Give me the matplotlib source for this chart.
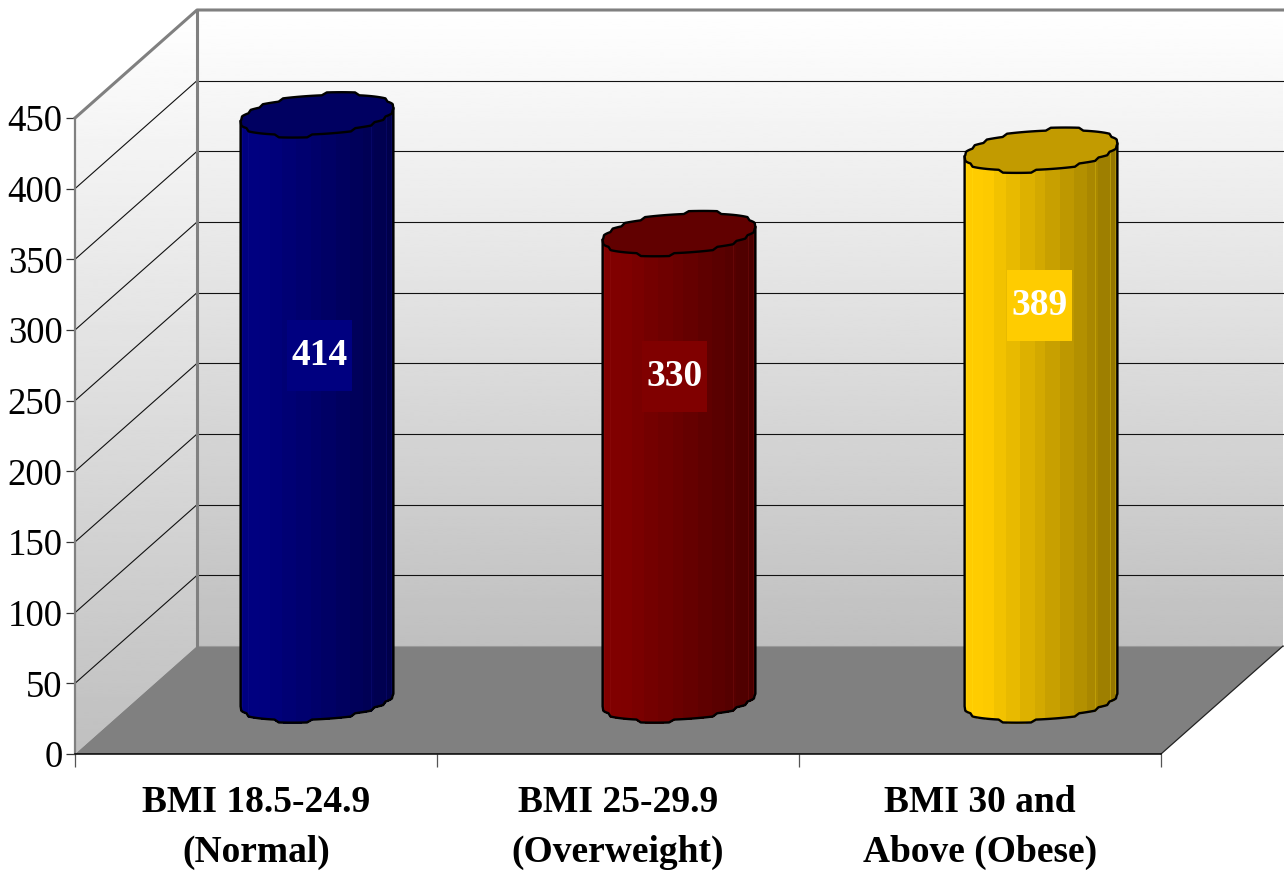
import numpy as np
import matplotlib
matplotlib.use("Agg")
import matplotlib.pyplot as plt
from matplotlib.patches import Polygon, Rectangle

plt.rcParams['font.family'] = ['Liberation Serif', 'DejaVu Serif']

categories = ["BMI 18.5-24.9\n(Normal)", "BMI 25-29.9\n(Overweight)", "BMI 30 and\nAbove (Obese)"]
counts = [414, 330, 389]
yticks = [0, 50, 100, 150, 200, 250, 300, 350, 400, 450]
body_colors = ["#000080", "#800000", "#FFCC00"]
label_heights = [244, 229, 279]
label_shifts = [0.007, -0.012, -0.005]

W, H = 1284, 871
LEFT, RIGHT, BASE, TOP = 75, 1161, 754, 118
DEPTH_X = 122 / ((RIGHT - LEFT) / 3)
DEPTH_Y = 108 / ((BASE - TOP) / 450)
RADIUS = 0.2


def shade(color, f):
    return tuple(c * f for c in matplotlib.colors.to_rgb(color))


def project(x, depth, v):
    return x + DEPTH_X * depth, v + DEPTH_Y * depth


def wall_gradient(ax, corners, y_top, y_bottom, c_top=1.0, c_bottom=0.75):
    grad = np.linspace(c_top, c_bottom, 256).reshape(-1, 1)
    im = ax.imshow(grad, cmap='gray', vmin=0, vmax=1, aspect='auto', zorder=0,
                   extent=(0, 3 + DEPTH_X, y_bottom, y_top), interpolation='bilinear')
    clip = Polygon(corners, transform=ax.transData)
    im.set_clip_path(clip)
    im.set_clip_box(fig.bbox)


def rim(cx, t):
    # circle in the floor plane, part snapped so the outline gets a faceted wobble
    depth = 0.5 + RADIUS * np.sin(t)
    snapped = np.round(depth * 108 / 6) * 6 / 108
    depth = 0.55 * depth + 0.45 * snapped
    return cx + RADIUS * np.cos(t) + DEPTH_X * (0.5 + RADIUS * np.sin(t)), DEPTH_Y * depth


def draw_cylinder(ax, cx, value, color):
    t0 = np.arctan(DEPTH_X)
    angles = np.linspace(t0 + np.pi, t0 + 2 * np.pi, 49)
    xs, ys = rim(cx, angles)
    span = xs.max() - xs.min()
    # bands down the side, brightest at the left and darkening to the right
    for i in range(len(angles) - 1):
        pos = ((xs[i] + xs[i + 1]) / 2 - xs.min()) / span
        pos = np.round(pos * 12) / 12
        f = 1.0 - 0.42 * max(0, pos - 0.15) / 0.85
        c = shade(color, f)
        ax.add_patch(Polygon([(xs[i], ys[i]), (xs[i + 1], ys[i + 1]),
                              (xs[i + 1], ys[i + 1] + value), (xs[i], ys[i] + value)],
                             facecolor=c, edgecolor=c, lw=0.6, zorder=3, clip_on=False,
                             antialiased=False))
    lo = tuple(min(1, c + 0.1) for c in matplotlib.colors.to_rgb(color))
    for i in (3, 7, 36, 41, 44):
        ax.plot([xs[i], xs[i]], [ys[i], ys[i] + value], color=lo, lw=0.4, alpha=0.45,
                zorder=3.5, clip_on=False)
    ax.plot(np.r_[xs[0], xs, xs[-1]], np.r_[ys[0] + value, ys, ys[-1] + value],
            color='black', lw=1.7, zorder=4, clip_on=False, solid_joinstyle='round')
    # lid
    a = np.linspace(0, 2 * np.pi, 97)
    lx, ly = rim(cx, a)
    ax.add_patch(Polygon(np.c_[lx, ly + value], closed=True, facecolor=shade(color, 0.76),
                         edgecolor='black', lw=1.7, zorder=4, clip_on=False, joinstyle='round'))


fig = plt.figure(figsize=(W / 100, H / 100), dpi=100)
ax = fig.add_axes([LEFT / W, 1 - BASE / H, (RIGHT - LEFT) / W, (BASE - TOP) / H])
ax.patch.set_visible(False)

# back wall, side wall and floor of the 3-D box
back = [project(0, 1, 0), project(3, 1, 0), project(3, 1, 450), project(0, 1, 450)]
side = [project(0, 0, 0), project(0, 1, 0), project(0, 1, 450), project(0, 0, 450)]
floor = [project(0, 0, 0), project(3, 0, 0), project(3, 1, 0), project(0, 1, 0)]
wall_gradient(ax, back, DEPTH_Y + 450, DEPTH_Y)
wall_gradient(ax, side, DEPTH_Y + 450, 0)
ax.add_patch(Polygon(floor, facecolor='#808080', edgecolor='none', zorder=1, clip_on=False))

for v in yticks[1:-1]:
    xb, yb = project(0, 1, v)
    xe, _ = project(3, 1, v)
    ax.plot([xb, xe], [yb, yb], color='#111111', lw=0.8, zorder=1, clip_on=False)
    ax.plot([0, xb], [v, yb], color='#111111', lw=0.8, zorder=1, clip_on=False)

gray = '#808080'
x1, y1 = project(0, 1, 450)
x2, _ = project(3, 1, 450)
ax.plot([0, x1, x2], [450, y1, y1], color=gray, lw=2.2, zorder=2, clip_on=False)
ax.plot([x1, x1], [DEPTH_Y, y1], color=gray, lw=2.2, zorder=2, clip_on=False)
ax.plot([3, x2], [0, DEPTH_Y], color='#222222', lw=0.9, zorder=2, clip_on=False)
ax.plot([x1, x2], [DEPTH_Y, DEPTH_Y], color='#999999', lw=0.8, zorder=1, clip_on=False)

for i, (value, color) in enumerate(zip(counts, body_colors)):
    draw_cylinder(ax, i + 0.5, value, color)
    cx, cy = project(i + 0.5 + label_shifts[i], 0.5, label_heights[i])
    w = 65 / ((RIGHT - LEFT) / 3)
    h = 71 / ((BASE - TOP) / 450)
    ax.add_patch(Rectangle((cx - w / 2, cy - h / 2), w, h, facecolor=color,
                           edgecolor='none', zorder=5, clip_on=False))
    ax.text(cx, cy, str(value), color='white', fontsize=27, fontweight='bold',
            ha='center', va='center', zorder=6, clip_on=False)

ax.set_xlim(0, 3)
ax.set_ylim(0, 450)
ax.set_yticks(yticks)
ax.set_yticklabels([str(v) for v in yticks])
ax.set_xticks([0, 1, 2, 3])
ax.set_xticklabels([])
ax.set_xticks([0.5, 1.5, 2.5], minor=True)
ax.set_xticklabels(categories, minor=True, fontsize=27, fontweight='bold', linespacing=1.56)
ax.tick_params(axis='y', labelsize=26.5, length=6.5, width=0.9, pad=2.5, color='#333333')
ax.tick_params(axis='x', which='major', length=9, width=0.9, color='#555555')
ax.tick_params(axis='x', which='minor', length=0, pad=22)
for s in ('top', 'right'):
    ax.spines[s].set_visible(False)
ax.spines['left'].set_color(gray)
ax.spines['left'].set_linewidth(1.6)
ax.spines['bottom'].set_color('black')
ax.spines['bottom'].set_linewidth(1.1)

fig.savefig('out.png', dpi=100)
